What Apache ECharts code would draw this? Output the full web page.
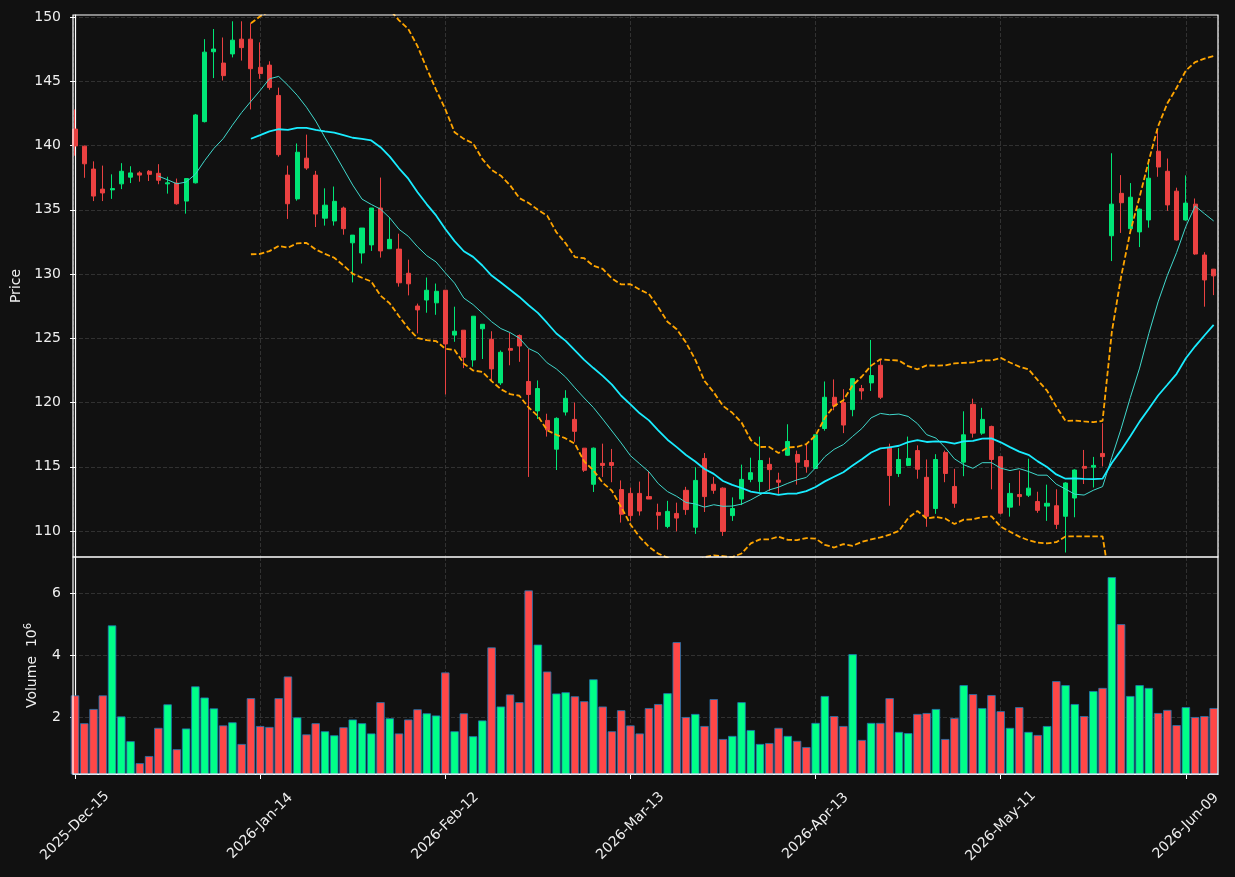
<!DOCTYPE html>
<html>
<head>
<meta charset="utf-8">
<script src="https://cdn.jsdelivr.net/npm/echarts@6/dist/echarts.min.js"></script>
<style>
  html, body { margin: 0; padding: 0; background: #111111; }
  #chart { width: 1235px; height: 877px; }
</style>
</head>
<body>
<div id="chart"></div>
<script>
// x tick positions (bar index) and their labels
const tickIdx = [0, 20, 40, 60, 80, 100, 120];
const tickLabels = ['2025-Dec-15', '2026-Jan-14', '2026-Feb-12', '2026-Mar-13', '2026-Apr-13', '2026-May-11', '2026-Jun-09'];
const priceTicks = [110, 115, 120, 125, 130, 135, 140, 145, 150];
const volTicks = [2, 4, 6];

// OHLC, one value per trading day
const opens = [
  141.28, 139.95, 138.17, 136.61, 136.55, 137.02, 137.54, 137.87, 138.00, 137.84,
  137.02, 137.08, 135.68, 137.10, 141.86, 147.30, 146.42, 147.13, 148.28, 148.28,
  146.09, 146.26, 143.90, 137.70, 135.85, 139.02, 137.70, 134.35, 134.13, 135.14,
  132.43, 131.64, 132.27, 135.14, 131.97, 131.94, 130.06, 127.51, 127.98, 127.76,
  128.74, 125.25, 125.63, 123.31, 125.74, 124.92, 121.53, 124.21, 125.22, 121.64,
  119.35, 118.61, 116.37, 119.26, 118.69, 116.45, 113.64, 115.27, 115.33, 113.23,
  112.93, 112.93, 112.68, 111.45, 110.36, 111.37, 113.17, 110.30, 115.65, 113.64,
  113.34, 111.20, 112.49, 114.02, 113.85, 115.19, 113.96, 115.90, 115.96, 115.49,
  114.87, 117.98, 120.41, 120.00, 119.45, 121.09, 121.53, 122.90, 116.53, 114.48,
  115.11, 116.26, 114.18, 111.75, 116.12, 113.47, 115.36, 119.86, 117.62, 118.14,
  115.79, 111.86, 112.84, 112.79, 112.30, 111.94, 111.97, 111.15, 112.57, 115.03,
  114.97, 116.04, 132.98, 136.28, 133.53, 133.28, 134.21, 139.56, 138.00, 136.45,
  134.21, 135.44, 131.48, 130.38
];
const highs = [
  142.81, 140.00, 138.77, 138.44, 137.76, 138.63, 138.39, 138.00, 138.09, 138.55,
  137.57, 137.43, 137.45, 142.46, 148.28, 149.07, 148.41, 149.67, 149.67, 149.53,
  148.03, 146.56, 144.51, 138.44, 140.16, 140.85, 138.03, 136.67, 136.81, 135.25,
  133.03, 133.58, 135.14, 137.51, 134.43, 133.14, 131.12, 127.70, 129.73, 129.26,
  128.74, 127.46, 125.63, 126.72, 126.09, 125.55, 124.05, 125.41, 125.30, 124.18,
  121.72, 119.13, 118.85, 120.96, 120.00, 116.45, 116.50, 116.80, 116.39, 113.94,
  113.39, 113.85, 114.67, 112.13, 112.35, 112.21, 113.44, 114.97, 116.07, 114.21,
  113.40, 112.62, 115.17, 115.71, 117.35, 115.71, 114.54, 118.31, 116.26, 116.80,
  117.50, 121.64, 121.80, 121.04, 121.90, 121.37, 124.87, 123.36, 116.80, 116.45,
  117.35, 116.67, 115.57, 115.98, 116.26, 114.84, 119.32, 120.30, 119.59, 118.20,
  115.80, 113.74, 114.70, 115.63, 113.06, 113.61, 113.25, 113.80, 114.80, 116.31,
  115.77, 118.39, 139.40, 137.70, 137.08, 135.10, 138.94, 141.12, 138.99, 136.72,
  137.68, 135.88, 131.70, 130.40
];
const lows = [
  139.21, 137.49, 135.68, 135.68, 135.85, 136.61, 137.08, 137.19, 137.24, 136.99,
  136.26, 135.40, 134.70, 137.05, 141.80, 145.25, 145.06, 146.86, 146.61, 142.81,
  145.19, 144.34, 139.13, 134.29, 135.71, 138.11, 133.66, 133.77, 133.77, 133.06,
  129.35, 130.82, 131.80, 131.28, 131.97, 129.02, 128.34, 125.38, 126.99, 126.83,
  120.63, 124.73, 122.68, 122.79, 123.39, 121.72, 121.37, 122.90, 123.17, 114.21,
  118.72, 117.35, 114.75, 118.99, 116.94, 114.60, 113.04, 114.21, 113.80, 110.66,
  110.79, 111.20, 112.49, 110.11, 110.22, 109.97, 111.26, 109.78, 111.48, 112.90,
  109.62, 110.79, 112.02, 113.80, 113.06, 113.11, 112.90, 115.85, 113.61, 114.54,
  114.87, 117.81, 119.40, 117.62, 118.93, 120.22, 120.90, 120.27, 111.97, 114.21,
  115.05, 114.07, 110.33, 111.34, 113.80, 111.81, 114.27, 117.27, 117.49, 113.25,
  111.30, 111.12, 111.97, 112.65, 111.42, 110.79, 110.16, 108.33, 111.07, 113.66,
  113.39, 115.03, 131.01, 133.20, 133.50, 132.10, 133.61, 137.57, 134.92, 132.60,
  134.15, 131.50, 127.46, 128.36
];
const closes = [
  139.97, 138.58, 136.07, 136.31, 136.65, 138.00, 137.87, 137.70, 137.76, 137.30,
  137.10, 135.47, 137.43, 142.38, 147.27, 147.51, 145.44, 148.20, 147.62, 145.98,
  145.60, 144.51, 139.29, 135.47, 139.48, 138.25, 134.67, 135.36, 135.66, 133.53,
  133.03, 133.58, 135.14, 131.80, 132.70, 129.32, 129.24, 127.21, 128.74, 128.66,
  124.56, 125.55, 123.52, 126.72, 126.09, 122.62, 123.91, 124.07, 124.40, 120.63,
  121.09, 117.87, 118.77, 120.33, 117.76, 114.73, 116.45, 115.11, 115.11, 111.31,
  111.20, 111.56, 112.49, 111.23, 111.53, 111.01, 111.67, 113.94, 112.68, 113.17,
  109.97, 111.75, 114.02, 114.54, 115.49, 114.78, 113.80, 116.97, 115.36, 115.03,
  117.49, 120.41, 119.73, 118.25, 121.86, 120.90, 122.10, 120.41, 114.32, 115.57,
  115.65, 114.81, 111.15, 115.57, 114.48, 112.16, 117.49, 117.62, 118.69, 115.57,
  111.39, 112.93, 112.68, 113.34, 111.61, 112.16, 110.52, 113.74, 114.75, 114.89,
  115.11, 115.79, 135.44, 135.55, 135.98, 135.05, 137.46, 138.33, 135.38, 132.65,
  135.52, 131.56, 129.54, 129.86
];
// volume in millions
const volumes = [
  2.70, 1.80, 2.26, 2.70, 4.96, 2.02, 1.22, 0.51, 0.74, 1.65,
  2.41, 0.96, 1.63, 2.99, 2.63, 2.28, 1.73, 1.83, 1.13, 2.61,
  1.71, 1.68, 2.61, 3.31, 1.99, 1.44, 1.80, 1.54, 1.41, 1.67,
  1.92, 1.80, 1.47, 2.48, 1.96, 1.47, 1.92, 2.25, 2.12, 2.05,
  3.44, 1.54, 2.12, 1.38, 1.89, 4.25, 2.34, 2.73, 2.48, 6.09,
  4.34, 3.47, 2.76, 2.80, 2.67, 2.51, 3.22, 2.34, 1.54, 2.22,
  1.73, 1.47, 2.29, 2.42, 2.77, 4.42, 2.00, 2.10, 1.71, 2.58,
  1.29, 1.39, 2.48, 1.58, 1.13, 1.16, 1.65, 1.39, 1.23, 1.03,
  1.81, 2.68, 2.03, 1.71, 4.03, 1.26, 1.81, 1.81, 2.61, 1.52,
  1.48, 2.10, 2.13, 2.26, 1.29, 1.97, 3.03, 2.74, 2.29, 2.71,
  2.19, 1.65, 2.32, 1.52, 1.42, 1.71, 3.16, 3.03, 2.42, 2.03,
  2.84, 2.94, 6.52, 5.00, 2.68, 3.03, 2.94, 2.13, 2.23, 1.74,
  2.32, 2.00, 2.03, 2.29
];

const upColor = '#00e676';
const downColor = '#ea4141';
const volUp = '#00ff88';
const volDown = '#ff4747';
const textColor = '#eeeeee';
const gridLineColor = '#3a3a3a';
const font = 'DejaVu Sans';

// moving average / bollinger from the closes (like mplfinance does)
const rollingMean = (arr, n) => arr.map((_, i) => {
    if (i < n - 1) return null;
    let s = 0;
    for (let k = i - n + 1; k <= i; k++) s += arr[k];
    return s / n;
});
const rollingStd = (arr, n, mean) => arr.map((_, i) => {
    if (i < n - 1) return null;
    let s = 0;
    for (let k = i - n + 1; k <= i; k++) s += (arr[k] - mean[i]) ** 2;
    return Math.sqrt(s / n);
});
const ma10 = rollingMean(closes, 10);
const ma20 = rollingMean(closes, 20);
const sd20 = rollingStd(closes, 20, ma20);
const bbUpper = ma20.map((m, i) => m == null ? null : m + 2 * sd20[i]);
const bbLower = ma20.map((m, i) => m == null ? null : m - 2 * sd20[i]);

const toPoints = arr => arr.map((v, i) => [i, v]).filter(p => p[1] != null);

const candleData = closes.map((c, i) => [i, opens[i], c, lows[i], highs[i]]);
const volumeData = volumes.map((v, i) => ({
    value: [i, v],
    itemStyle: {color: closes[i] >= opens[i] ? volUp : volDown}
}));

const chart = echarts.init(document.getElementById('chart'));

const xCommon = {
    type: 'value',
    min: -0.22,
    max: 123.47,
    splitNumber: 6,
    splitLine: {show: true, lineStyle: {color: gridLineColor, type: [4, 2], width: 0.8}},
};

const option = {
    backgroundColor: '#111111',
    animation: false,
    textStyle: {fontFamily: font},
    // z above split lines so the white frame is not overdrawn by the dashed grid
    grid: [
        {left: 73, top: 15, width: 1145, height: 542, show: true, z: 10, borderColor: '#ffffff', borderWidth: 1.2},
        {left: 73, top: 557, width: 1145, height: 217, show: true, z: 10, borderColor: '#ffffff', borderWidth: 1.2}
    ],
    xAxis: [
        Object.assign({}, xCommon, {
            gridIndex: 0,
            axisLine: {show: false},
            axisTick: {show: false},
            axisLabel: {show: false}
        }),
        Object.assign({}, xCommon, {
            gridIndex: 1,
            axisLine: {show: true, onZero: false, lineStyle: {color: '#ffffff', width: 1.2}},
            axisTick: {show: true, customValues: tickIdx, length: 5, lineStyle: {color: '#ffffff'}},
            axisLabel: {
                customValues: tickIdx,
                formatter: v => tickLabels[tickIdx.indexOf(v)] || '',
                rotate: 45,
                align: 'center',
                verticalAlign: 'middle',
                margin: 52,
                color: textColor,
                fontSize: 14,
                fontFamily: font
            }
        })
    ],
    yAxis: [
        {
            gridIndex: 0,
            type: 'value',
            min: 107.98,
            max: 150.16,
            splitNumber: 8,
            name: 'Price',
            nameLocation: 'middle',
            nameGap: 48,
            nameRotate: 90,
            nameTextStyle: {color: textColor, fontSize: 14, fontFamily: font},
            axisLine: {show: true, lineStyle: {color: '#ffffff', width: 1.2}},
            axisTick: {show: true, customValues: priceTicks, length: 5, lineStyle: {color: '#ffffff'}},
            axisLabel: {customValues: priceTicks, color: textColor, fontSize: 14, margin: 12, fontFamily: font},
            splitLine: {show: true, lineStyle: {color: gridLineColor, type: [4, 2], width: 0.8}}
        },
        {
            gridIndex: 1,
            type: 'value',
            min: 0.16,
            max: 7.17,
            splitNumber: 4,
            name: 'Volume  10{s|6}',
            nameLocation: 'middle',
            nameGap: 32,
            nameRotate: 90,
            nameTextStyle: {
                color: textColor, fontSize: 14, fontFamily: font,
                rich: {s: {fontSize: 10, color: textColor, fontFamily: font, padding: [0, 0, 8, 0]}}
            },
            axisLine: {show: true, lineStyle: {color: '#ffffff', width: 1.2}},
            axisTick: {show: true, customValues: volTicks, length: 5, lineStyle: {color: '#ffffff'}},
            axisLabel: {customValues: volTicks, color: textColor, fontSize: 14, margin: 12, fontFamily: font},
            splitLine: {show: true, lineStyle: {color: gridLineColor, type: [4, 2], width: 0.8}}
        }
    ],
    series: [
        {
            name: 'candles',
            type: 'candlestick',
            xAxisIndex: 0,
            yAxisIndex: 0,
            barWidth: 4.6,
            data: candleData,
            itemStyle: {
                color: upColor,
                color0: downColor,
                borderColor: upColor,
                borderColor0: downColor,
                borderWidth: 1
            }
        },
        {
            name: 'MA10',
            type: 'line',
            xAxisIndex: 0,
            yAxisIndex: 0,
            data: toPoints(ma10),
            showSymbol: false,
            lineStyle: {color: '#40d8cc', width: 1}
        },
        {
            name: 'MA20',
            type: 'line',
            xAxisIndex: 0,
            yAxisIndex: 0,
            data: toPoints(ma20),
            showSymbol: false,
            lineStyle: {color: '#19ecff', width: 1.8}
        },
        {
            name: 'BB upper',
            type: 'line',
            xAxisIndex: 0,
            yAxisIndex: 0,
            data: toPoints(bbUpper),
            showSymbol: false,
            lineStyle: {color: '#ffa500', width: 1.8, type: [5.5, 2.5]}
        },
        {
            name: 'BB lower',
            type: 'line',
            xAxisIndex: 0,
            yAxisIndex: 0,
            data: toPoints(bbLower),
            showSymbol: false,
            lineStyle: {color: '#ffa500', width: 1.8, type: [5.5, 2.5]}
        },
        {
            name: 'Volume',
            type: 'bar',
            xAxisIndex: 1,
            yAxisIndex: 1,
            barWidth: 8.4,
            data: volumeData,
            itemStyle: {borderColor: '#1f77b4', borderWidth: 0.8}
        }
    ]
};

chart.setOption(option);
</script>
</body>
</html>
